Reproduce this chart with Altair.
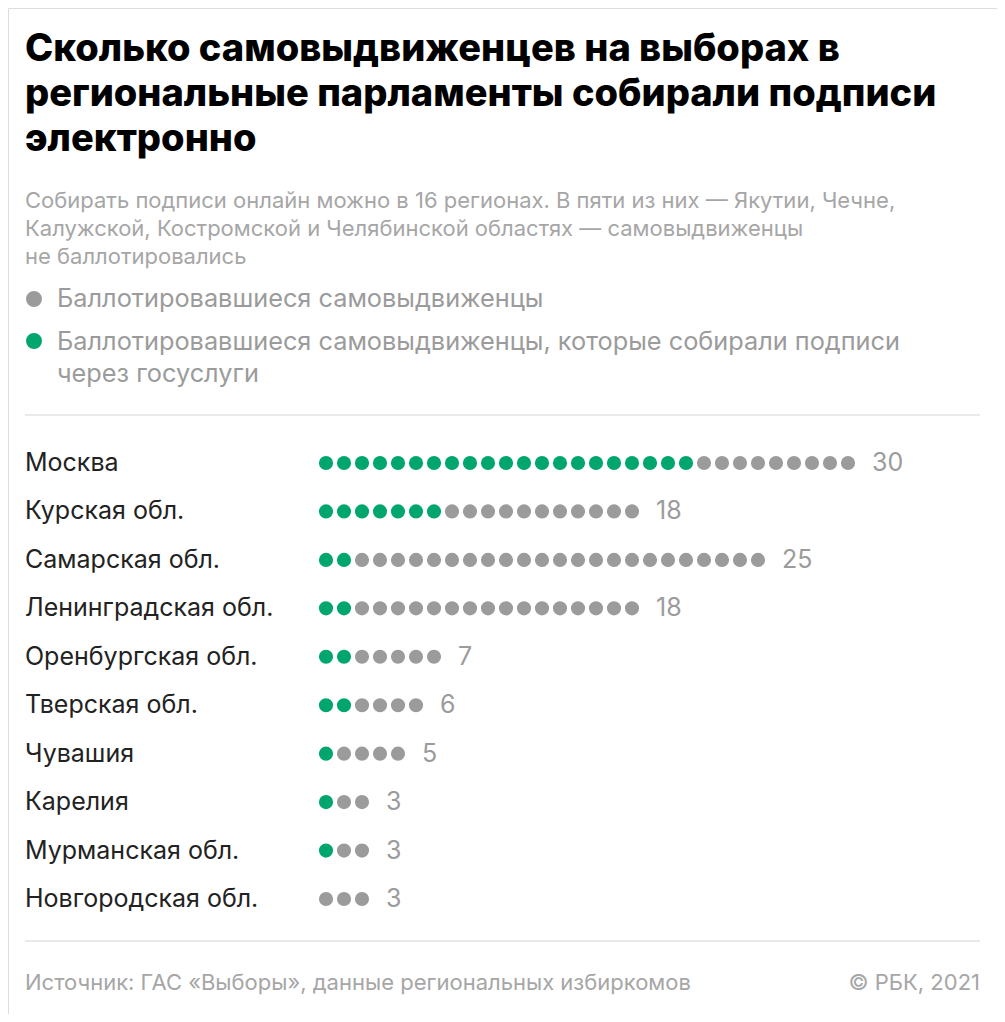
import altair as alt
import pandas as pd

regions = ["Москва", "Курская обл.", "Самарская обл.", "Ленинградская обл.",
           "Оренбургская обл.", "Тверская обл.", "Чувашия", "Карелия",
           "Мурманская обл.", "Новгородская обл."]
totals = [30, 18, 25, 18, 7, 6, 5, 3, 3, 3]
online = [21, 7, 2, 2, 2, 2, 1, 1, 1, 0]

title_lines = ["Сколько самовыдвиженцев на выборах в",
               "региональные парламенты собирали подписи",
               "электронно"]
subtitle_lines = ["Собирать подписи онлайн можно в 16 регионах. В пяти из них — Якутии, Чечне,",
                  "Калужской, Костромской и Челябинской областях — самовыдвиженцы",
                  "не баллотировались"]
legend_grey = "Баллотировавшиеся самовыдвиженцы"
legend_green = ["Баллотировавшиеся самовыдвиженцы, которые собирали подписи",
                "через госуслуги"]
source = "Источник: ГАС «Выборы», данные региональных избиркомов"
credit = "© РБК, 2021"

GREEN = "#00a66e"
GREY = "#9b9b9b"
FONT = "Inter"

rows = []
for r, t, g in zip(regions, totals, online):
    for i in range(t):
        rows.append({"region": r, "i": i, "status": "online" if i < g else "other"})
dots = pd.DataFrame(rows)
labels = pd.DataFrame({"region": regions, "total": totals, "last": [t - 1 for t in totals]})

xs = alt.Scale(domain=[0, 29], range=[318, 318 + 18 * 29])
ys = alt.Scale(type="point", domain=regions, range=[455, 891], padding=0)


def txt(text, x, y, size, color, weight="normal", align="left"):
    return alt.Chart(pd.DataFrame({"t": [text]})).mark_text(
        align=align, baseline="alphabetic", fontSize=size, font=FONT,
        fontWeight=weight, color=color
    ).encode(text="t:N", x=alt.value(x), y=alt.value(y))


layers = []
for k, line in enumerate(title_lines):
    layers.append(txt(line, 17, 53 + 45 * k, 38, "#000000", weight=800))
for k, line in enumerate(subtitle_lines):
    layers.append(txt(line, 17, 200 + 28 * k, 22, "#a6a6a6"))

layers.append(alt.Chart(pd.DataFrame({"c": ["grey"]})).mark_circle(size=254, opacity=1, color=GREY)
              .encode(x=alt.value(26), y=alt.value(291)))
layers.append(alt.Chart(pd.DataFrame({"c": ["green"]})).mark_circle(size=254, opacity=1, color=GREEN)
              .encode(x=alt.value(26), y=alt.value(333)))
layers.append(txt(legend_grey, 49, 299, 25.3, "#9b9b9b"))
layers.append(txt(legend_green[0], 49, 342, 25.3, "#9b9b9b"))
layers.append(txt(legend_green[1], 49, 374, 25.3, "#9b9b9b"))

layers.append(alt.Chart(pd.DataFrame({"k": [0]})).mark_rule(color="#e3e3e3", strokeWidth=1.5)
              .encode(x=alt.value(17), x2=alt.value(972), y=alt.value(407)))
layers.append(alt.Chart(pd.DataFrame({"k": [0]})).mark_rule(color="#e3e3e3", strokeWidth=1.5)
              .encode(x=alt.value(17), x2=alt.value(972), y=alt.value(933)))

region_text = alt.Chart(labels).mark_text(
    align="left", baseline="middle", fontSize=25, font=FONT, color="#222222"
).encode(x=alt.value(17), y=alt.Y("region:N", scale=ys, axis=None), text="region:N")

dot_layer = alt.Chart(dots).mark_circle(size=200, opacity=1).encode(
    x=alt.X("i:Q", scale=xs, axis=None),
    y=alt.Y("region:N", scale=ys, axis=None),
    color=alt.Color("status:N", scale=alt.Scale(domain=["online", "other"], range=[GREEN, GREY]), legend=None),
)

num_text = alt.Chart(labels).mark_text(
    align="left", baseline="middle", dx=24, fontSize=25, font=FONT, color="#9b9b9b"
).encode(x=alt.X("last:Q", scale=xs, axis=None), y=alt.Y("region:N", scale=ys, axis=None), text="total:Q")

layers += [region_text, dot_layer, num_text]
layers.append(txt(source, 17, 982, 22, "#a6a6a6"))
layers.append(txt(credit, 972, 982, 22, "#a6a6a6", align="right"))

chart = alt.layer(*layers).properties(
    width=989, height=1006, autosize=alt.AutoSizeParams(type="none"), padding=0
).configure_view(stroke=None).configure(background="#ffffff")

chart.save("out.html", embed_options={"renderer": "svg", "actions": False})
